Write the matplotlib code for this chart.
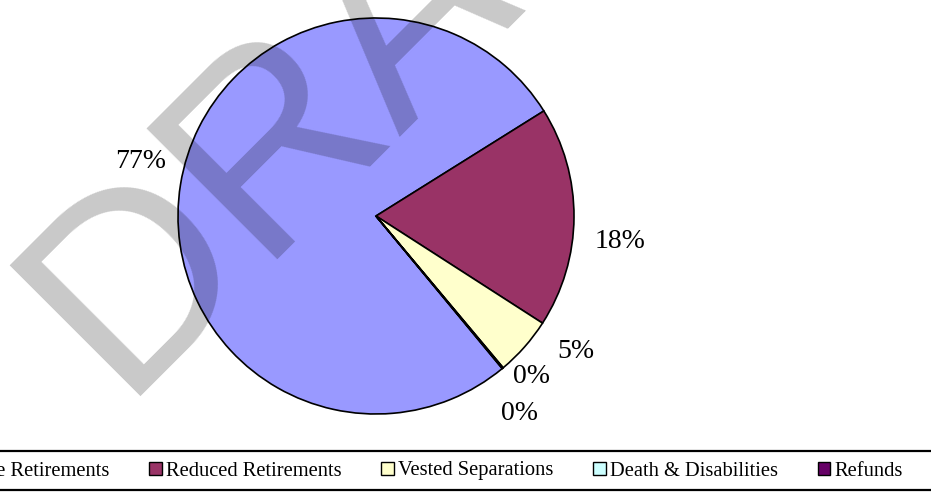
import matplotlib
matplotlib.use('Agg')
import matplotlib.pyplot as plt
from matplotlib.patches import Patch
from matplotlib.lines import Line2D
import numpy as np

# data
categories = ['Service Retirements', 'Reduced Retirements', 'Vested Separations',
              'Death & Disabilities', 'Refunds']
shares = [77.1, 18.0, 4.8, 0.05, 0.05]
colors = ['#9999FF', '#993366', '#FFFFCC', '#CCFFFF', '#660066']

plt.rcParams['font.family'] = ['Liberation Serif', 'DejaVu Serif']

W, H = 931, 497
fig = plt.figure(figsize=(W / 100, H / 100), dpi=100)

# pie axes: centre ~(376,216), radius ~198 px
cx, cy, r = 376, 216, 198
ax = fig.add_axes([(cx - r) / W, 1 - (cy + r) / H, 2 * r / W, 2 * r / H])
wedges, texts, autotexts = ax.pie(
    shares, colors=colors, startangle=-50.4, counterclock=False,
    autopct=lambda p: '{:.0f}%'.format(p), pctdistance=1.23,
    wedgeprops=dict(edgecolor='black', linewidth=1.2),
    textprops=dict(fontsize=20, color='black'))
ax.set_xlim(-1, 1)
ax.set_ylim(-1, 1)
ax.set_aspect('equal')
ax.axis('off')

# Excel puts the two tiny labels one above the other
label_angles = [167, -6, -34, -46, -54]
label_dist = [1.22, 1.24, 1.22, 1.13, 1.23]
for t, a, d in zip(autotexts, label_angles, label_dist):
    t.set_position((d * np.cos(np.radians(a)), d * np.sin(np.radians(a))))
    t.set_ha('center')
    t.set_va('center')

# legend strip along the bottom
handles = [Patch(facecolor=c, edgecolor='black', linewidth=1.0) for c in colors]
fig.legend(handles, categories, loc='center right',
           bbox_to_anchor=(913 / W, 1 - 471 / H), ncol=5, frameon=False,
           fontsize=14.8, borderpad=0, columnspacing=1.95, handletextpad=0.2,
           handlelength=0.6, handleheight=0.6)
for yy in (451, 490):
    fig.add_artist(Line2D([0, 1], [1 - yy / H, 1 - yy / H], color='black',
                          linewidth=1.6, transform=fig.transFigure))

# DRAFT watermark
fig.text(119 / W, 1 - 396 / H, 'DRAFT', fontsize=194, family='Liberation Sans',
         color='black', alpha=0.215, rotation=45, rotation_mode='anchor',
         ha='left', va='baseline', zorder=10)

fig.savefig('out.png', dpi=100)
